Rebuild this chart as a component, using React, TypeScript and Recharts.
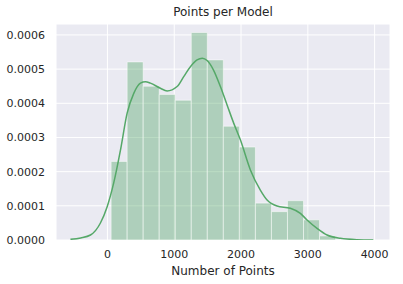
import {
  ComposedChart,
  Line,
  XAxis,
  YAxis,
  CartesianGrid,
  ReferenceArea,
  Label,
} from 'recharts';

// histogram bins (density), edges are shared between neighbours
const binEdges = [55, 295, 535, 775, 1015, 1255, 1495, 1735, 1975, 2215, 2455, 2695, 2935, 3175, 3415];
const binDensity = [
  0.00023, 0.000521, 0.00045, 0.000426, 0.000409, 0.000607, 0.000527,
  0.000333, 0.000272, 0.000108, 0.000083, 0.000115, 0.000059, 0.000012,
];

// kde curve
const kdeX = [
  -554, -400, -254, -105, -4, 94, 195, 295, 394, 494, 569, 643, 793, 893, 1043, 1142,
  1242, 1342, 1421, 1492, 1586, 1691, 1791, 1890, 1990, 2140, 2289, 2390, 2539, 2738,
  2888, 2988, 3138, 3288, 3487, 3736, 3980,
];
const kdeY = [
  0.000002, 0.000006, 0.0000146, 0.0000498, 0.0000975, 0.000167, 0.000263, 0.000371,
  0.000429, 0.000459, 0.000463, 0.000459, 0.000444, 0.000436, 0.000449, 0.000478,
  0.000507, 0.000527, 0.000532, 0.000525, 0.000498, 0.000449, 0.000395, 0.000342,
  0.000293, 0.000205, 0.000146, 0.000117, 0.0000995, 0.0000928, 0.0000781, 0.0000585,
  0.0000342, 0.0000146, 0.000005, 0.000001, 0,
];

const xTicks = [0, 1000, 2000, 3000, 4000];
const yTicks = [0, 0.0001, 0.0002, 0.0003, 0.0004, 0.0005, 0.0006];

const green = '#55a868';
const textColor = '#262626';
const font = '"DejaVu Sans", sans-serif';

export default function App() {
  const kdeData = kdeX.map((x, i) => ({ x, y: kdeY[i] }));

  return (
    <div style={{ position: 'absolute', left: 0, top: 0, width: 403, height: 284, background: '#fff', fontFamily: font }}>
      <div
        style={{
          position: 'absolute',
          left: 56,
          width: 334,
          top: 5,
          textAlign: 'center',
          fontSize: 12,
          color: textColor,
        }}
      >
        Points per Model
      </div>
      <ComposedChart
        width={403}
        height={284}
        data={kdeData}
        margin={{ top: 24, right: 13, bottom: 0, left: 0 }}
      >
        <CartesianGrid stroke="#ffffff" strokeWidth={1} fill="#eaeaf2" />
        <XAxis
          dataKey="x"
          type="number"
          domain={[-770, 4230]}
          ticks={xTicks}
          axisLine={false}
          tickLine={false}
          tickMargin={4}
          height={44}
          tick={{ fill: textColor, fontSize: 11, fontFamily: font }}
        >
          <Label
            value="Number of Points"
            position="insideBottom"
            offset={9}
            style={{ fill: textColor, fontSize: 12, fontFamily: font }}
          />
        </XAxis>
        <YAxis
          type="number"
          domain={[0, 0.000632]}
          ticks={yTicks}
          axisLine={false}
          tickLine={false}
          tickMargin={5}
          width={56}
          allowDataOverflow
          tickFormatter={(v: number) => v.toFixed(4)}
          tick={{ fill: textColor, fontSize: 11, fontFamily: font }}
        />
        {binDensity.map((d, i) => (
          <ReferenceArea
            key={i}
            x1={binEdges[i]}
            x2={binEdges[i + 1]}
            y1={0}
            y2={d}
            fill={green}
            fillOpacity={0.4}
            stroke="#ffffff"
            strokeOpacity={0.5}
            strokeWidth={1}
            ifOverflow="visible"
          />
        ))}
        <Line
          dataKey="y"
          type="monotone"
          stroke={green}
          strokeWidth={1.5}
          dot={false}
          activeDot={false}
          isAnimationActive={false}
        />
      </ComposedChart>
    </div>
  );
}
